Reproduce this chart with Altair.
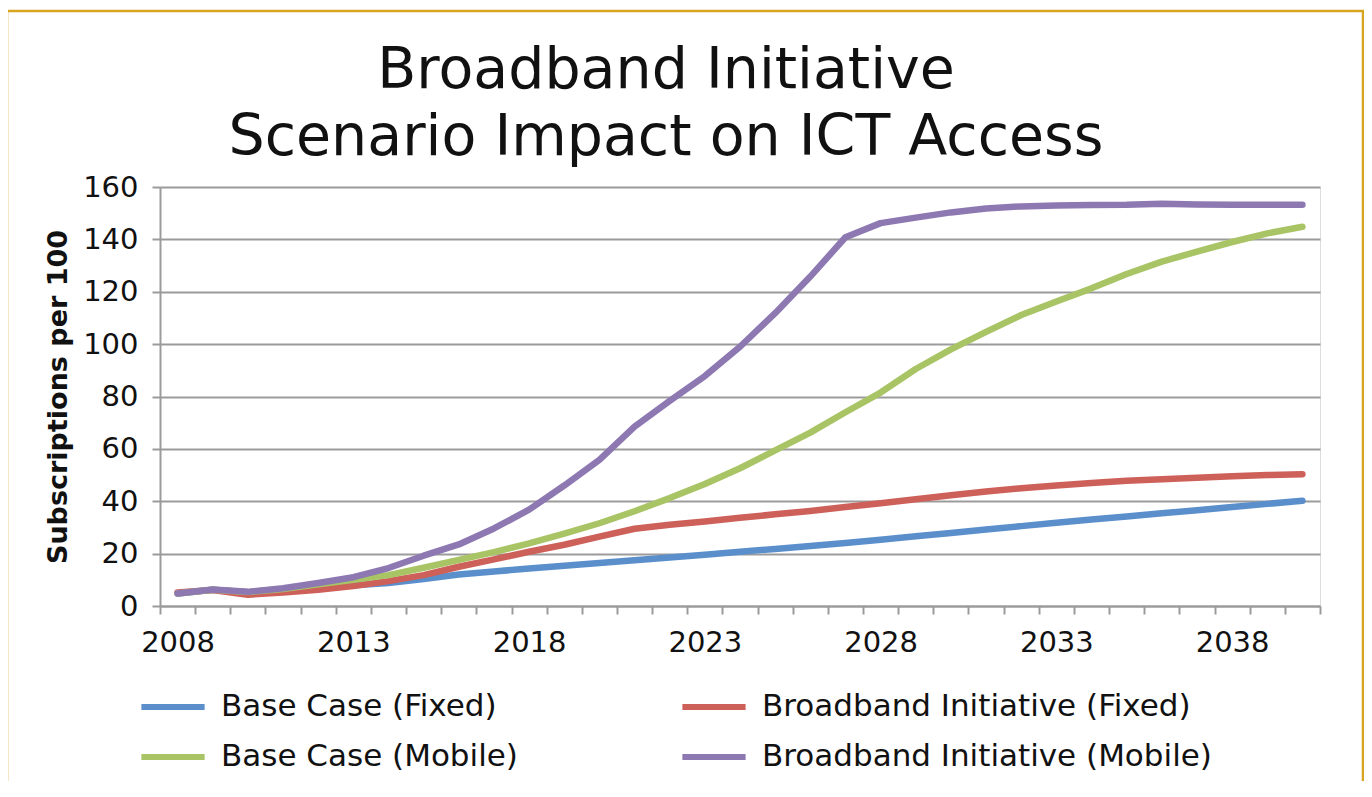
import altair as alt
import pandas as pd

years = list(range(2008, 2041))

base_fixed = [4.8, 6.2, 5.3, 6.0, 6.9, 7.9, 8.8, 10.3, 12.0, 13.2, 14.3, 15.4, 16.4, 17.5, 18.5, 19.6,
              20.7, 21.8, 22.9, 24.1, 25.3, 26.6, 27.9, 29.2, 30.5, 31.8, 33.0, 34.2, 35.4, 36.6, 37.8, 39.0, 40.2]
bi_fixed = [5.2, 6.1, 4.3, 5.2, 6.2, 7.6, 9.5, 11.8, 15.0, 17.8, 20.7, 23.4, 26.5, 29.5, 31.0, 32.3,
            33.7, 35.0, 36.3, 37.8, 39.2, 40.8, 42.3, 43.7, 45.0, 46.0, 47.0, 47.8, 48.4, 49.0, 49.5, 50.0, 50.3]
base_mobile = [4.8, 6.2, 5.3, 6.5, 8.3, 10.0, 11.8, 14.6, 17.6, 20.6, 23.9, 27.6, 31.6, 36.2, 41.2, 46.6,
               52.6, 59.4, 66.2, 74.0, 81.5, 90.5, 98.0, 104.7, 111.1, 116.3, 121.3, 126.8, 131.5, 135.3, 139.0, 142.3, 144.8]
bi_mobile = [4.8, 6.3, 5.4, 6.8, 8.8, 11.0, 14.5, 19.2, 23.5, 29.6, 36.8, 46.0, 55.8, 68.5, 78.3, 87.8,
             99.0, 111.8, 125.8, 140.8, 146.2, 148.3, 150.3, 151.8, 152.6, 152.9, 153.1, 153.2, 153.6, 153.3, 153.2, 153.2, 153.2]

series_names = ["Base Case (Fixed)", "Broadband Initiative (Fixed)",
                "Base Case (Mobile)", "Broadband Initiative (Mobile)"]
series_colors = ["#5B8FCB", "#CE605A", "#A8C465", "#8D78B2"]
series_values = [base_fixed, bi_fixed, base_mobile, bi_mobile]

rows = []
for name, vals in zip(series_names, series_values):
    for y, v in zip(years, vals):
        rows.append({"Year": y, "Value": v, "Series": name})
df = pd.DataFrame(rows)

label_years = [2008, 2013, 2018, 2023, 2028, 2033, 2038]
tick_bounds = [y - 0.5 for y in years] + [years[-1] + 0.5]

FONT = "DejaVu Sans"
GRID = "#9B9B9B"
TXT = "#111111"

xscale = alt.Scale(domain=[years[0] - 0.5, years[-1] + 0.5], nice=False, zero=False)

lines = alt.Chart(df).mark_line(strokeWidth=6.5, strokeCap="round", strokeJoin="round").encode(
    x=alt.X("Year:Q", scale=xscale,
            axis=alt.Axis(orient="bottom", values=label_years, format="d", tickSize=0, domain=False,
                          grid=False, labelFontSize=29, labelFont=FONT, labelColor=TXT,
                          labelPadding=22, title=None)),
    y=alt.Y("Value:Q", scale=alt.Scale(domain=[0, 160], nice=False),
            axis=alt.Axis(values=list(range(0, 161, 20)), tickSize=8, tickColor=GRID, tickWidth=2,
                          domainColor=GRID, domainWidth=2, gridColor=GRID, gridWidth=2,
                          labelFontSize=29, labelFont=FONT, labelColor=TXT, labelPadding=14,
                          title="Subscriptions per 100", titleFontSize=27, titleFont=FONT,
                          titleFontWeight="bold", titleColor=TXT, titlePadding=10)),
    color=alt.Color("Series:N", sort=series_names,
                    scale=alt.Scale(domain=series_names, range=series_colors),
                    legend=alt.Legend(orient="none", legendX=-22, legendY=485, columns=2,
                                      direction="horizontal",
                                      symbolType="stroke", symbolSize=4000, symbolStrokeWidth=6,
                                      labelFontSize=31, labelFont=FONT, labelColor=TXT,
                                      labelOffset=13, columnPadding=152, rowPadding=-11,
                                      title=None, labelLimit=600)),
)

ticks = alt.Chart(pd.DataFrame({"Year": years})).mark_point(opacity=0).encode(
    x=alt.X("Year:Q", scale=xscale,
            axis=alt.Axis(orient="bottom", values=tick_bounds, labels=False, tickSize=8,
                          tickColor=GRID, tickWidth=2, domainColor=GRID, domainWidth=2,
                          grid=False, title=None)),
)

frame = alt.Chart(pd.DataFrame({"Year": [years[0]]})).mark_rect(
    fill=None, stroke="#D9A520", strokeWidth=2.5).encode(
    x=alt.value(-153), x2=alt.value(1203), y=alt.value(-176), y2=alt.value(640),
)

chart = alt.layer(frame, lines, ticks).resolve_axis(x="independent").properties(
    width=1160, height=419,
    autosize=alt.AutoSizeParams(type="none"),
    padding={"left": 152, "top": 179, "right": 44, "bottom": 175},
    title=alt.TitleParams(text=["Broadband Initiative", "Scenario Impact on ICT Access"],
                          fontSize=57, font=FONT, fontWeight="normal", color=TXT,
                          anchor="middle", frame="group", dx=-74, lineHeight=67, offset=-157),
).configure_view(stroke=None).configure(background="white")

chart.save("out.html", embed_options={"renderer": "svg", "actions": False})
